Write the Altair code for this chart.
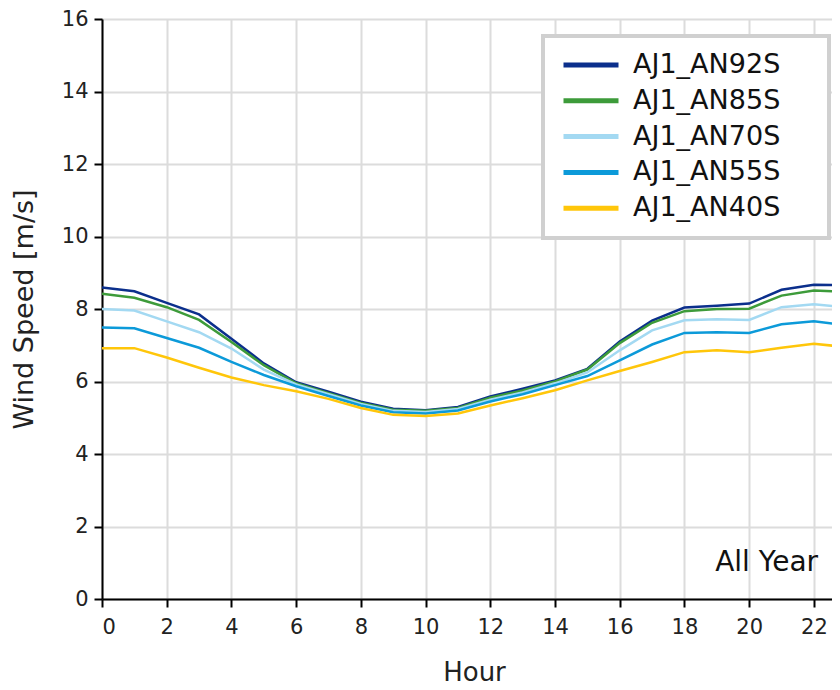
import altair as alt
import pandas as pd

hours = list(range(24))
series_names = ["AJ1_AN92S", "AJ1_AN85S", "AJ1_AN70S", "AJ1_AN55S", "AJ1_AN40S"]
series_colors = ["#0b2f8c", "#3d9b3a", "#a3d9f2", "#0c9ad9", "#ffc60a"]

an92 = [8.59, 8.49, 8.17, 7.85, 7.18, 6.50, 5.98, 5.72, 5.44, 5.25, 5.21, 5.30,
        5.59, 5.80, 6.03, 6.35, 7.10, 7.68, 8.04, 8.09, 8.15, 8.53, 8.67, 8.65]
an85 = [8.42, 8.31, 8.05, 7.70, 7.09, 6.45, 5.95, 5.68, 5.41, 5.22, 5.19, 5.27,
        5.55, 5.75, 6.00, 6.33, 7.06, 7.62, 7.94, 8.00, 8.01, 8.37, 8.51, 8.47]
an70 = [8.00, 7.96, 7.66, 7.36, 6.91, 6.33, 5.92, 5.65, 5.38, 5.19, 5.16, 5.24,
        5.50, 5.70, 5.95, 6.25, 6.86, 7.41, 7.69, 7.72, 7.70, 8.05, 8.13, 8.05]
an55 = [7.49, 7.47, 7.20, 6.93, 6.54, 6.18, 5.87, 5.60, 5.34, 5.15, 5.12, 5.20,
        5.45, 5.65, 5.90, 6.15, 6.58, 7.02, 7.34, 7.36, 7.34, 7.58, 7.66, 7.55]
an40 = [6.92, 6.92, 6.66, 6.38, 6.11, 5.90, 5.73, 5.52, 5.27, 5.08, 5.05, 5.12,
        5.34, 5.54, 5.76, 6.03, 6.29, 6.54, 6.81, 6.86, 6.81, 6.93, 7.04, 6.95]

x_ticks = list(range(0, 23, 2))
y_ticks = list(range(0, 17, 2))
x_domain = [0, 22.56]
y_domain = [0, 16]

annotation_text = ["All Year"]
annotation_x = [22.13]
annotation_y = [1.0]

FONT = "DejaVu Sans"

rows = []
for name, vals in zip(series_names, [an92, an85, an70, an55, an40]):
    for h, v in zip(hours, vals):
        rows.append({"Hour": h, "Speed": v, "Series": name})
df = pd.DataFrame(rows)

ann = pd.DataFrame({"x": annotation_x, "y": annotation_y, "t": annotation_text})

x_enc = alt.X(
    "Hour:Q",
    scale=alt.Scale(domain=x_domain, nice=False, zero=False),
    axis=alt.Axis(values=x_ticks, title="Hour", titleX=372, titleY=73,
                  titleBaseline="middle", titleAlign="center", labelPadding=9,
                  titleFontSize=26),
)
y_enc = alt.Y(
    "Speed:Q",
    scale=alt.Scale(domain=y_domain, nice=False),
    axis=alt.Axis(values=y_ticks, title="Wind Speed [m/s]", titleX=-78, titleY=290,
                  titleAngle=-90, titleBaseline="middle", titleAlign="center",
                  labelPadding=6, titleFontSize=27),
)

lines = alt.Chart(df).mark_line(strokeWidth=2.5, clip=True).encode(
    x=x_enc,
    y=y_enc,
    color=alt.Color(
        "Series:N",
        scale=alt.Scale(domain=series_names, range=series_colors),
        sort=series_names,
        legend=alt.Legend(
            title=None,
            orient="none",
            legendX=441,
            legendY=17,
            symbolType="stroke",
            symbolSize=3025,
            symbolStrokeWidth=5,
            symbolOffset=4,
            clipHeight=30,
            rowPadding=5.8,
            padding=14,
            labelOffset=12,
            labelFontSize=27,
            labelFont=FONT,
            labelColor="#111111",
            labelLimit=400,
            labelExpr="datum.label + '\u00a0\u00a0\u00a0\u00a0\u200b'",
            fillColor="white",
        ),
    ),
    order=alt.Order("Series:N"),
)

text = alt.Chart(ann).mark_text(
    align="right", baseline="middle", fontSize=28, font=FONT, color="#111111"
).encode(x="x:Q", y="y:Q", text="t:N")

chart = (
    alt.layer(lines, text)
    .properties(
        width=730,
        height=580,
        autosize=alt.AutoSizeParams(type="none"),
        padding={"left": 94, "top": 11, "right": 0, "bottom": 90},
        background="white",
    )
    .configure_view(stroke=None)
    .configure_legend(strokeColor="#d0d0d0", strokeWidth=4)
    .configure_axis(
        domainColor="#000000",
        domainWidth=2,
        tickColor="#000000",
        tickWidth=2,
        tickSize=8,
        labelFont=FONT,
        labelFontSize=21,
        labelColor="#222222",
        titleFont=FONT,
        titleFontWeight="normal",
        titleColor="#222222",
        gridColor="#dcdcdc",
        gridWidth=2,
    )
)

chart.save("out.html", embed_options={"renderer": "svg", "actions": False})
